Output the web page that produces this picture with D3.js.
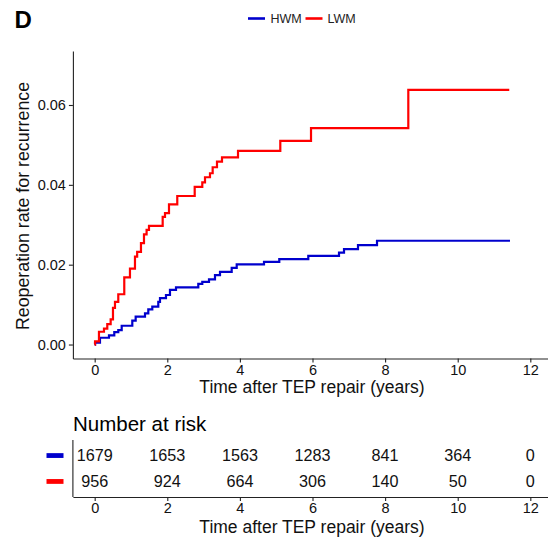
<!DOCTYPE html>
<html>
<head>
<meta charset="utf-8">
<script src="https://cdn.jsdelivr.net/npm/d3@7"></script>
<style>
  html, body { margin: 0; padding: 0; background: #fff; }
  svg { display: block; }
  text { font-family: "Liberation Sans", Arial, sans-serif; }
</style>
</head>
<body>
<svg id="chart" width="548" height="541"></svg>
<script>
// ---- Data ----
const groups = ["HWM", "LWM"];
const groupColors = ["#0000CD", "#FF0000"];

const hwmTimes  = [0, 0.01, 0.146, 0.394, 0.54, 0.65, 0.744, 1.036, 1.129, 1.386, 1.477, 1.587, 1.752, 1.799, 1.964, 2.074, 2.24, 2.854, 2.964, 3.149, 3.314, 3.452, 3.774, 3.912, 4.664, 5.085, 5.884, 6.73, 6.868, 7.253, 7.777, 11.44];
const hwmValues = [0, 0.0005, 0.0017, 0.0023, 0.0031, 0.0036, 0.0047, 0.006, 0.007, 0.0078, 0.0088, 0.0095, 0.0107, 0.0116, 0.0124, 0.0137, 0.0143, 0.0152, 0.0157, 0.0163, 0.0174, 0.0182, 0.0192, 0.0201, 0.0207, 0.0214, 0.0222, 0.023, 0.0239, 0.0249, 0.026, 0.026];

const lwmTimes  = [0, 0.01, 0.118, 0.256, 0.347, 0.44, 0.504, 0.559, 0.65, 0.815, 0.972, 1.11, 1.17, 1.275, 1.358, 1.43, 1.496, 1.873, 1.937, 2.047, 2.275, 2.755, 2.964, 3.039, 3.176, 3.25, 3.369, 3.507, 3.948, 5.113, 5.959, 8.639, 11.42];
const lwmValues = [0, 0.0008, 0.0032, 0.004, 0.0051, 0.0063, 0.0092, 0.0107, 0.0126, 0.0168, 0.019, 0.022, 0.0232, 0.0254, 0.0276, 0.0287, 0.0297, 0.032, 0.0329, 0.0351, 0.0372, 0.0395, 0.0406, 0.0419, 0.0429, 0.0444, 0.0458, 0.0469, 0.0485, 0.051, 0.0542, 0.0638, 0.0638];

const xTicks = [0, 2, 4, 6, 8, 10, 12];
const yTicks = [0, 0.02, 0.04, 0.06];
const riskTimes = [0, 2, 4, 6, 8, 10, 12];
const hwmRisk = [1679, 1653, 1563, 1283, 841, 364, 0];
const lwmRisk = [956, 924, 664, 306, 140, 50, 0];

const panelLabel = "D";
const yTitle = "Reoperation rate for recurrence";
const xTitle = "Time after TEP repair (years)";
const riskTitle = "Number at risk";

// ---- Drawing ----
const svg = d3.select("#chart");
const FONT = "'Liberation Sans', Arial, sans-serif";

const x = d3.scaleLinear().domain([-0.6, 12.6]).range([72.9, 552.1]);
const y = d3.scaleLinear().domain([-0.0035, 0.0735]).range([358.5, 51.1]);

// Panel label
svg.append("text").attr("x", 14.5).attr("y", 28)
  .attr("font-size", 24).attr("font-weight", "bold").attr("fill", "#000")
  .text(panelLabel);

// Legend
const legendItems = [
  { name: groups[0], color: groupColors[0], lx: 248, tx: 270.5 },
  { name: groups[1], color: groupColors[1], lx: 305.5, tx: 327.5 }
];
const lg = svg.append("g");
legendItems.forEach(it => {
  lg.append("line").attr("x1", it.lx).attr("x2", it.lx + 17)
    .attr("y1", 18.5).attr("y2", 18.5)
    .attr("stroke", it.color).attr("stroke-width", 2.6);
  lg.append("text").attr("x", it.tx).attr("y", 22.9)
    .attr("font-size", 12.5).attr("fill", "#222").text(it.name);
});

// Axes (main)
const xAxis = d3.axisBottom(x).tickValues(xTicks).tickSize(4).tickSizeOuter(0).tickPadding(2).tickFormat(d3.format("d"));
const yAxis = d3.axisLeft(y).tickValues(yTicks).tickSize(4).tickSizeOuter(0).tickPadding(3).tickFormat(d3.format(".2f"));

function styleAxis(g) {
  g.selectAll("path.domain").attr("stroke", "#222").attr("stroke-width", 1.1);
  g.selectAll(".tick line").attr("stroke", "#222").attr("stroke-width", 1.1);
  g.selectAll(".tick text").attr("font-size", 14.5).attr("fill", "#111").attr("font-family", FONT);
}

const gx = svg.append("g").attr("transform", "translate(0,358.5)").call(xAxis);
styleAxis(gx);
const gy = svg.append("g").attr("transform", "translate(72.9,0)").call(yAxis);
styleAxis(gy);

// Axis titles
svg.append("text").attr("x", 312).attr("y", 393).attr("text-anchor", "middle")
  .attr("font-size", 17.5).attr("fill", "#111").text(xTitle);
svg.append("text").attr("transform", "translate(28.5,206) rotate(-90)")
  .attr("text-anchor", "middle").attr("font-size", 17.8).attr("fill", "#111").text(yTitle);

// Step curves
const line = d3.line().x(d => x(d[0])).y(d => y(d[1])).curve(d3.curveStepAfter);
const series = [
  { times: hwmTimes, values: hwmValues, color: groupColors[0] },
  { times: lwmTimes, values: lwmValues, color: groupColors[1] }
];
series.forEach(s => {
  const pts = s.times.map((t, i) => [t, s.values[i]]);
  svg.append("path").datum(pts).attr("d", line)
    .attr("fill", "none").attr("stroke", s.color).attr("stroke-width", 2.2)
    .attr("stroke-linejoin", "miter");
});

// ---- Risk table ----
svg.append("text").attr("x", 73).attr("y", 431)
  .attr("font-size", 20.5).attr("fill", "#000").text(riskTitle);

const ry = d3.scaleLinear().domain([0.4, 2.6]).range([440, 497]);
const rAxisX = d3.axisBottom(x).tickValues(xTicks).tickSize(4).tickSizeOuter(0).tickPadding(2).tickFormat(d3.format("d"));
const grx = svg.append("g").attr("transform", "translate(0,497)").call(rAxisX);
styleAxis(grx);
svg.append("line").attr("x1", 72.9).attr("x2", 72.9).attr("y1", 440).attr("y2", 497)
  .attr("stroke", "#222").attr("stroke-width", 1.1);

const riskRows = [hwmRisk, lwmRisk];
riskRows.forEach((row, gi) => {
  const yy = ry(gi + 1);
  svg.append("rect").attr("x", 46.5).attr("y", yy - 2.4).attr("width", 17).attr("height", 4.8)
    .attr("fill", groupColors[gi]);
  svg.selectAll(null).data(row).enter().append("text")
    .attr("x", (d, i) => x(riskTimes[i]))
    .attr("y", yy + 5.8)
    .attr("text-anchor", "middle")
    .attr("font-size", 16.2).attr("fill", "#111")
    .text(d => d);
});

svg.append("text").attr("x", 312).attr("y", 533).attr("text-anchor", "middle")
  .attr("font-size", 17.5).attr("fill", "#111").text(xTitle);
</script>
</body>
</html>
